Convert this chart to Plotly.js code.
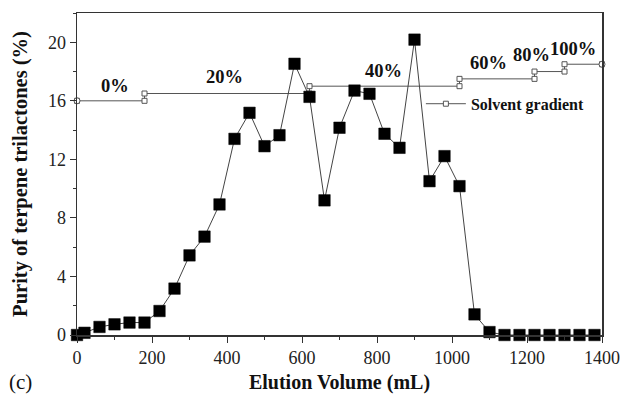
<!DOCTYPE html>
<html>
<head>
<meta charset="utf-8">
<script src="https://cdn.plot.ly/plotly-3.0.1.min.js"></script>
<style>html,body{margin:0;padding:0;background:#fff;}#chart{width:621px;height:397px;}</style>
</head>
<body>
<div id="chart"></div>
<script>
// Elution volume (mL) and purity of terpene trilactones (%)
const elutionVolume = [0, 20, 60, 100, 140, 180, 220, 260, 300, 340, 380, 420, 460, 500, 540, 580, 620, 660, 700, 740, 780, 820, 860, 900, 940, 980, 1020, 1060, 1100, 1140, 1180, 1220, 1260, 1300, 1340, 1380];
const purity = [0, 0.15, 0.55, 0.73, 0.85, 0.85, 1.64, 3.17, 5.44, 6.72, 8.92, 13.4, 15.18, 12.9, 13.65, 18.53, 16.27, 9.2, 14.16, 16.7, 16.48, 13.75, 12.79, 20.18, 10.51, 12.22, 10.17, 1.41, 0.2, 0, 0, 0, 0, 0, 0, 0];

// Solvent gradient step line
const gradientX = [0, 180, 180, 620, 620, 1020, 1020, 1220, 1220, 1300, 1300, 1400];
const gradientY = [16, 16, 16.5, 16.5, 17, 17, 17.5, 17.5, 18, 18, 18.5, 18.5];
const gradientEndX = [0, 1400];
const gradientEndY = [16, 18.5];

// Gradient step labels
const stepLabels = ["0%", "20%", "40%", "60%", "80%", "100%"];
const stepLabelX = [100, 394, 816, 1096, 1212, 1323];
const stepLabelY = [17.0, 17.65, 18.07, 18.6, 19.1, 19.57];

const serif = "Liberation Serif";

const traces = [
  {
    x: gradientX, y: gradientY, type: "scatter", mode: "lines+markers",
    name: "Solvent gradient", showlegend: true, cliponaxis: false,
    line: {color: "#555", width: 1},
    marker: {symbol: "square", size: 5, color: "#fff", line: {color: "#555", width: 1}}
  },
  {
    x: gradientEndX, y: gradientEndY, type: "scatter", mode: "markers",
    showlegend: false, cliponaxis: false, hoverinfo: "skip",
    marker: {symbol: "circle", size: 6, color: "#fff", line: {color: "#555", width: 1}}
  },
  {
    x: elutionVolume, y: purity, type: "scatter", mode: "lines+markers",
    name: "Purity", showlegend: false, cliponaxis: false,
    line: {color: "#444", width: 1},
    marker: {symbol: "square", size: 11.5, color: "#000", line: {color: "#000", width: 0.5}}
  }
];

const annotations = stepLabels.map((t, i) => ({
  x: stepLabelX[i], y: stepLabelY[i], xref: "x", yref: "y", text: "<b>" + t + "</b>",
  showarrow: false, font: {family: serif, size: 18.5, color: "#111"}
}));
annotations.push({
  x: -0.134, y: -0.147, xref: "paper", yref: "paper", text: "(c)", showarrow: false,
  xanchor: "left", yanchor: "middle", font: {family: serif, size: 21, color: "#111"}
});

const layout = {
  width: 621, height: 397,
  margin: {l: 77, r: 19, t: 13, b: 62},
  paper_bgcolor: "#fff", plot_bgcolor: "#fff",
  font: {family: serif, color: "#111", size: 18},
  showlegend: true,
  legend: {x: 0.655, y: 0.718, xanchor: "left", yanchor: "middle", bgcolor: "rgba(0,0,0,0)",
           itemwidth: 40,
           font: {family: serif, size: 16, color: "#111", weight: "bold"}},
  xaxis: {
    range: [0, 1400], tickvals: [0, 200, 400, 600, 800, 1000, 1200, 1400],
    ticks: "outside", ticklen: 6, tickwidth: 1, tickcolor: "#333",
    minor: {dtick: 100, tick0: 0, ticks: "outside", ticklen: 3, tickwidth: 1, tickcolor: "#333"},
    showline: true, linecolor: "#333", linewidth: 1.5, mirror: true,
    showgrid: false, zeroline: false,
    tickfont: {family: serif, size: 18, color: "#222"},
    title: {text: "<b>Elution Volume (mL)</b>", font: {family: serif, size: 20, color: "#111"}, standoff: 8}
  },
  yaxis: {
    range: [0, 22], tickvals: [0, 4, 8, 12, 16, 20],
    ticks: "outside", ticklen: 6, tickwidth: 1, tickcolor: "#333",
    minor: {dtick: 2, tick0: 0, ticks: "outside", ticklen: 3, tickwidth: 1, tickcolor: "#333"},
    showline: true, linecolor: "#333", linewidth: 1.5, mirror: true,
    showgrid: false, zeroline: false,
    tickfont: {family: serif, size: 18, color: "#222"},
    title: {text: "<b>Purity of terpene trilactones (%)</b>", font: {family: serif, size: 20.5, color: "#111"}, standoff: 14}
  },
  annotations: annotations
};

Plotly.newPlot("chart", traces, layout, {displayModeBar: false, staticPlot: true});
</script>
</body>
</html>
